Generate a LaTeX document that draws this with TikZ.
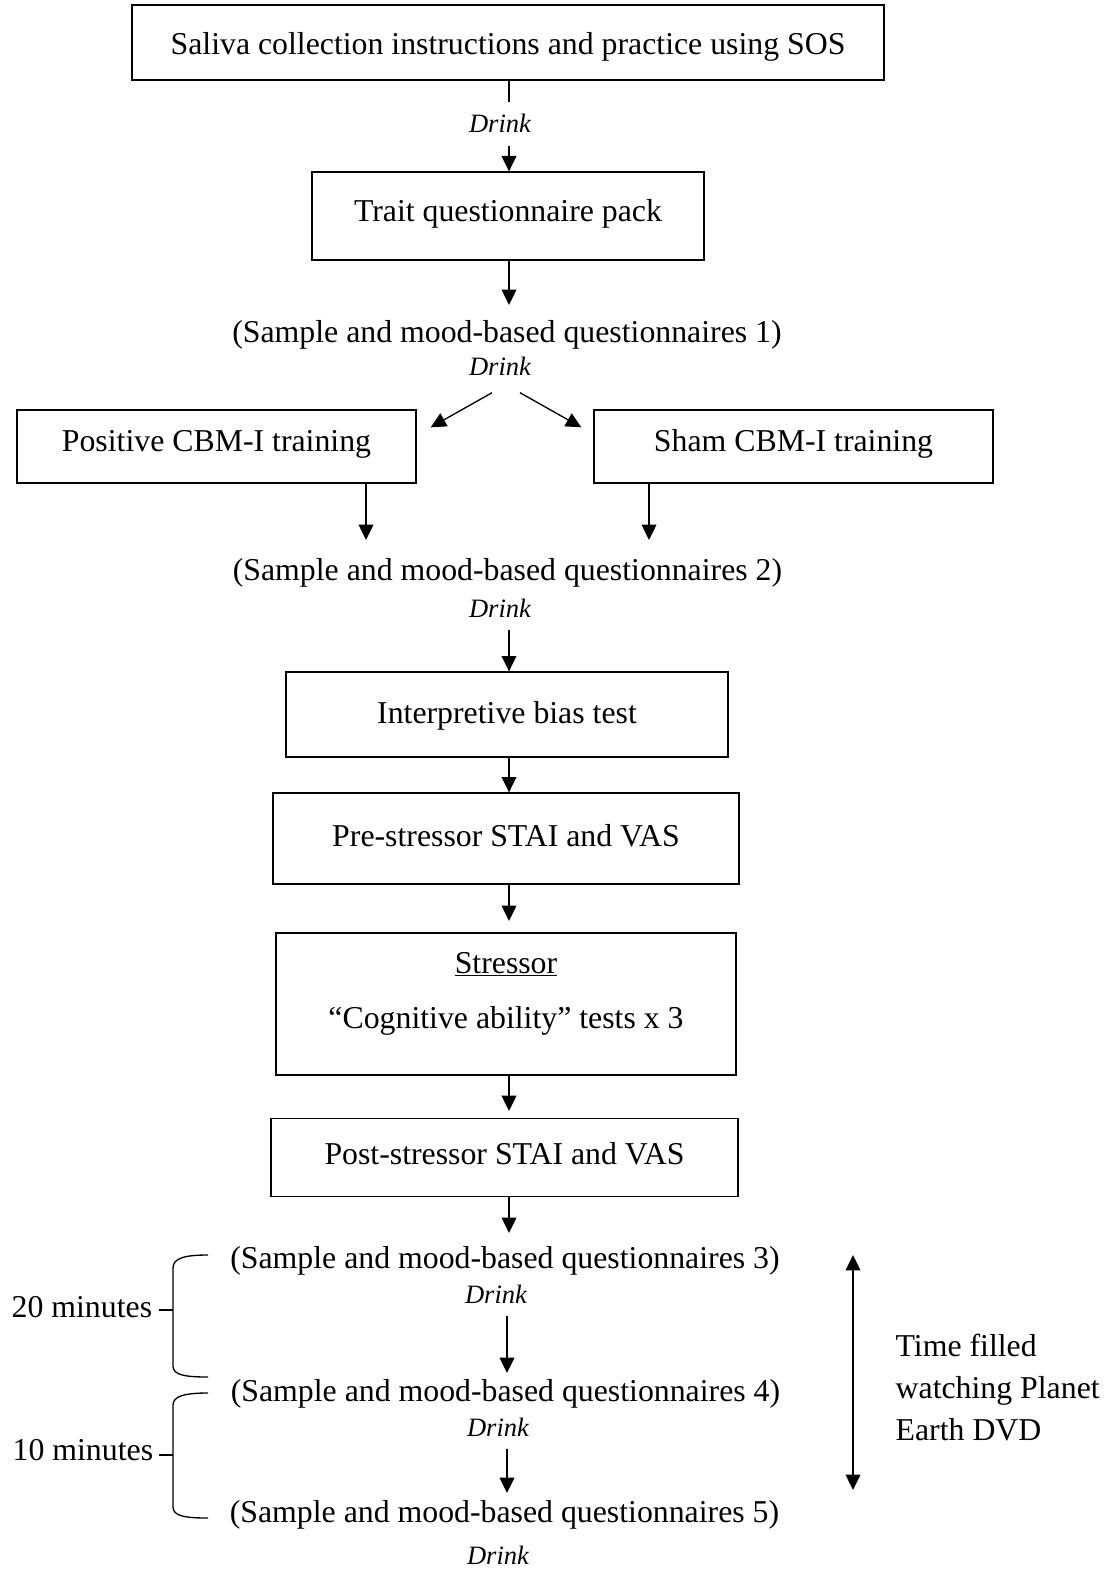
\documentclass[tikz,border=0pt]{standalone}
\usepackage{fontspec}
\setmainfont{Liberation Serif}
\usetikzlibrary{arrows.meta}
\begin{document}
\begin{tikzpicture}[x=0.75pt,y=-0.75pt,
  every path/.style={line width=1pt},
  main/.style={font=\fontsize{23.85pt}{31.5pt}\selectfont},
  box/.style={main,draw,line width=1pt,inner sep=0pt,text height=17pt,text depth=5pt},
  txt/.style={main,inner sep=0pt,anchor=base},
  drink/.style={font=\fontsize{19.9pt}{24pt}\selectfont\itshape,inner sep=9pt,anchor=base},
  arr/.style={-{Triangle[length=11.5pt,width=11pt]}},
  darr/.style={{Triangle[length=11.5pt,width=11pt]}-{Triangle[length=11.5pt,width=11pt]}}]
\useasboundingbox (0,0) rectangle (1111,1569);

% columns used by the vertical connectors
\coordinate (ax) at (509,0);
\coordinate (bx) at (507,0);

% boxes
\node[box,minimum width=564pt,minimum height=56.25pt,text height=23pt] (b1) at (508,42.5)
  {Saliva collection instructions and practice using SOS};
\node[drink] (d0) at (500,133) {Drink};
\node[box,minimum width=294pt,minimum height=66pt,text depth=8.75pt] (b2) at (508,216)
  {Trait questionnaire pack};
\node[txt] (s1) at (507,342) {(Sample and mood-based questionnaires 1)};
\node[drink] (d1) at (500,375) {Drink};
\node[box,minimum width=299.25pt,minimum height=54.75pt,text depth=9.5pt] (b3) at (216.5,446.5)
  {Positive CBM-I training};
\node[box,minimum width=299.25pt,minimum height=54.75pt,text depth=9.5pt] (b4) at (793.5,446.5)
  {Sham CBM-I training};
\node[txt] (s2) at (507.5,580) {(Sample and mood-based questionnaires 2)};
\node[drink] (d2) at (500,617) {Drink};
\node[box,minimum width=331.5pt,minimum height=63.75pt,text height=18pt] (b5) at (507,714.5)
  {Interpretive bias test};
\node[box,minimum width=349.5pt,minimum height=68.25pt] (b6) at (506,838.5)
  {Pre-stressor STAI and VAS};
\node[draw,inner sep=0pt,minimum width=345pt,minimum height=106.5pt] (b7) at (506,1004) {};
\node[txt] (b7a) at (506,973) {\underline{Stressor}};
\node[txt] (b7b) at (506,1028) {“Cognitive ability” tests x 3};
\node[box,minimum width=350.25pt,minimum height=58.5pt,text depth=7.25pt] (b8) at (504.5,1157.5)
  {Post-stressor STAI and VAS};
\node[txt] (s3) at (505,1268) {(Sample and mood-based questionnaires 3)};
\node[drink] (d3) at (496,1303) {Drink};
\node[txt] (s4) at (505.5,1401) {(Sample and mood-based questionnaires 4)};
\node[drink] (d4) at (498,1436) {Drink};
\node[txt] (s5) at (504.5,1522) {(Sample and mood-based questionnaires 5)};
\node[drink] (d5) at (498,1564) {Drink};

% side notes
\node[txt,anchor=base west] (m20) at (11,1317) {20 minutes};
\node[txt,anchor=base west] (m10) at (12,1460) {10 minutes};
\node[main,inner sep=0pt,anchor=north west,align=left] (dvd) at (895,1333)
  {Time filled\\watching Planet\\Earth DVD};

% arrow tips that stop short of the next item
\coordinate (t1) at (509,305);
\coordinate (t2l) at (366,540);
\coordinate (t2r) at (649,540);
\coordinate (t7) at (509,921);
\coordinate (t8) at (509,1111);
\coordinate (t9) at (509,1233);
\coordinate (t10) at (507,1373);
\coordinate (t11) at (507,1493);
\coordinate (vt) at (853,1255);
\coordinate (vb) at (853,1490);

% connectors
\draw (b1.south -| ax) -- (d0.north -| ax);
\draw[arr] (d0.south -| ax) -- (b2.north -| ax);
\draw[arr] (b2.south -| ax) -- (t1);
\draw[arr] ([xshift=-6pt,yshift=-3.75pt]d1.south) -- ([xshift=10.5pt,yshift=-13.5pt]b3.north east);
\draw[arr] ([xshift=15pt,yshift=-3.75pt]d1.south) -- ([xshift=-9pt,yshift=-13.5pt]b4.north west);
\draw[arr] ([xshift=112.125pt]b3.south) -- (t2l);
\draw[arr] ([xshift=-108.375pt]b4.south) -- (t2r);
\draw[arr] (d2.south -| ax) -- (b5.north -| ax);
\draw[arr] (b5.south -| ax) -- (b6.north -| ax);
\draw[arr] (b6.south -| ax) -- (t7);
\draw[arr] (b7.south -| ax) -- (t8);
\draw[arr] (b8.south -| ax) -- (t9);
\draw[arr] (d3.south -| bx) -- (t10);
\draw[arr] (d4.south -| bx) -- (t11);
\draw[darr] (vb) -- (vt);

% time braces
\draw (208,1255) .. controls (185,1255) and (173,1258) .. (173,1268) -- (173,1366)
  .. controls (173,1375) and (185,1377) .. (208,1377);
\draw (159,1310) -- (173,1310);
\draw (208,1393) .. controls (185,1393) and (173,1396) .. (173,1405) -- (173,1507)
  .. controls (173,1516) and (185,1518) .. (208,1518);
\draw (159,1455) -- (173,1455);
\end{tikzpicture}
\end{document}
